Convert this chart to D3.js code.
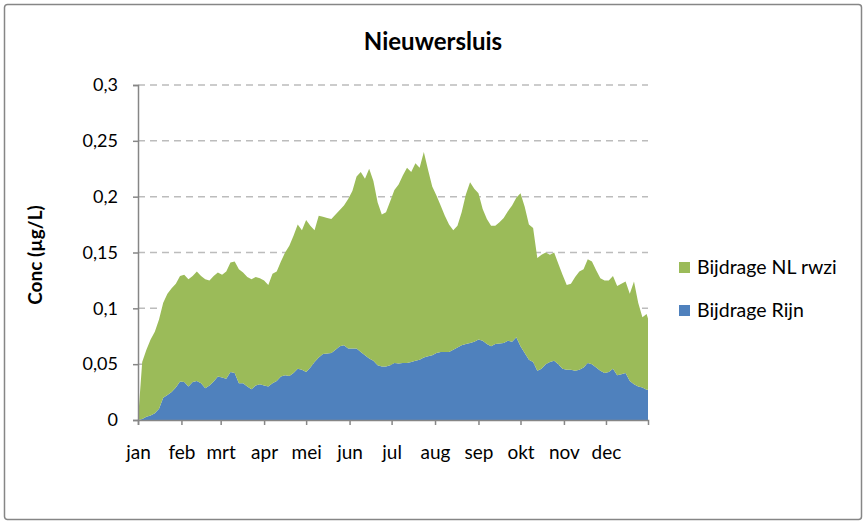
<!DOCTYPE html>
<html>
<head>
<meta charset="utf-8">
<script src="https://cdn.jsdelivr.net/npm/d3@7"></script>
<style>
  body { margin: 0; background: #fff; }
  text { font-family: Lato, "Open Sans", sans-serif; fill: #000; }
</style>
</head>
<body>
<script>
var w = 866;
var h = 522;

// dag van het jaar (0 = 1 jan)
var dagen = [0, 3, 6, 9, 12, 15, 18, 21, 24, 27, 30, 33, 36, 39, 42, 45, 48, 51, 54, 57,
  60, 63, 66, 69, 72, 75, 78, 81, 84, 87, 90, 93, 96, 99, 102, 105, 108, 111, 114, 117,
  120, 123, 126, 129, 132, 135, 138, 141, 144, 147, 150, 153, 156, 159, 162, 165, 168, 171, 174, 177,
  180, 183, 186, 189, 192, 195, 198, 201, 204, 207, 210, 213, 216, 219, 222, 225, 228, 231, 234, 237,
  240, 243, 246, 249, 252, 255, 258, 261, 264, 267, 270, 273, 276, 279, 282, 285, 288, 291, 294, 297,
  300, 303, 306, 309, 312, 315, 318, 321, 324, 327, 330, 333, 336, 339, 342, 345, 348, 351, 354, 357,
  360, 363, 364];

var rijn = [0.000, 0.001, 0.003, 0.004, 0.006, 0.010, 0.020, 0.0225, 0.025, 0.029, 0.0345, 0.034, 0.030, 0.034, 0.035, 0.033, 0.0285, 0.031, 0.0345, 0.039,
  0.038, 0.037, 0.043, 0.042, 0.033, 0.033, 0.030, 0.0275, 0.031, 0.032, 0.031, 0.030, 0.033, 0.035, 0.039, 0.040, 0.0395, 0.042, 0.046, 0.045,
  0.043, 0.047, 0.052, 0.056, 0.059, 0.0595, 0.060, 0.063, 0.066, 0.067, 0.064, 0.064, 0.064, 0.061, 0.058, 0.055, 0.053, 0.049, 0.048, 0.048,
  0.049, 0.051, 0.0505, 0.051, 0.051, 0.052, 0.053, 0.054, 0.056, 0.057, 0.058, 0.060, 0.061, 0.061, 0.061, 0.063, 0.065, 0.067, 0.068, 0.069,
  0.070, 0.072, 0.071, 0.068, 0.066, 0.068, 0.0685, 0.069, 0.071, 0.070, 0.074, 0.066, 0.060, 0.054, 0.052, 0.044, 0.046, 0.050, 0.052, 0.053,
  0.050, 0.046, 0.045, 0.045, 0.044, 0.045, 0.047, 0.051, 0.050, 0.047, 0.044, 0.042, 0.043, 0.046, 0.040, 0.041, 0.042, 0.035, 0.032, 0.030,
  0.029, 0.027, 0.027];

var nlRwzi = [0.000, 0.051, 0.060, 0.068, 0.073, 0.080, 0.085, 0.0905, 0.093, 0.093, 0.0945, 0.096, 0.096, 0.095, 0.098, 0.096, 0.0975, 0.094, 0.0945, 0.093,
  0.092, 0.096, 0.098, 0.100, 0.102, 0.099, 0.098, 0.0985, 0.097, 0.095, 0.094, 0.091, 0.098, 0.098, 0.103, 0.110, 0.1165, 0.123, 0.129, 0.125,
  0.136, 0.127, 0.118, 0.127, 0.123, 0.1215, 0.120, 0.121, 0.122, 0.125, 0.134, 0.141, 0.154, 0.161, 0.158, 0.170, 0.161, 0.146, 0.136, 0.138,
  0.147, 0.155, 0.1605, 0.168, 0.175, 0.170, 0.177, 0.172, 0.184, 0.167, 0.151, 0.141, 0.131, 0.122, 0.114, 0.107, 0.109, 0.119, 0.134, 0.144,
  0.137, 0.131, 0.118, 0.112, 0.108, 0.106, 0.1085, 0.112, 0.116, 0.122, 0.125, 0.137, 0.131, 0.121, 0.120, 0.101, 0.102, 0.100, 0.096, 0.097,
  0.090, 0.084, 0.076, 0.077, 0.084, 0.088, 0.088, 0.093, 0.092, 0.087, 0.083, 0.083, 0.082, 0.083, 0.080, 0.081, 0.082, 0.078, 0.092, 0.075,
  0.063, 0.068, 0.064];

var maanden = ['jan', 'feb', 'mrt', 'apr', 'mei', 'jun', 'jul', 'aug', 'sep', 'okt', 'nov', 'dec'];
var maandStart = [0, 31, 59, 90, 120, 151, 181, 212, 243, 273, 304, 334];
var yTicks = [0, 0.05, 0.1, 0.15, 0.2, 0.25, 0.3];

var reeksen = ['rijn', 'nlRwzi'];
var namen = { rijn: 'Bijdrage Rijn', nlRwzi: 'Bijdrage NL rwzi' };
var kleuren = { rijn: '#4F81BD', nlRwzi: '#9BBB59' };

var margin = { left: 138, right: 218, top: 85, bottom: 102 };

var x = d3.scaleLinear()
  .domain([0, 364])
  .range([margin.left, w - margin.right]);

var y = d3.scaleLinear()
  .domain([0, 0.3])
  .range([h - margin.bottom, margin.top]);

var tabel = dagen.map(function (d, i) {
  return { dag: d, rijn: rijn[i], nlRwzi: nlRwzi[i] };
});

var stack = d3.stack().keys(reeksen);
var lagen = stack(tabel);

var svg = d3.select('body')
  .append('svg')
  .attr('width', w)
  .attr('height', h);

svg.append('rect')
  .attr('x', 4.5)
  .attr('y', 4.5)
  .attr('width', 857)
  .attr('height', 515)
  .attr('rx', 3)
  .attr('fill', '#fff')
  .attr('stroke', '#868686')
  .attr('stroke-width', 1.5);

svg.append('text')
  .attr('x', 433)
  .attr('y', 50)
  .attr('text-anchor', 'middle')
  .style('font-size', '24px')
  .style('font-weight', 'bold')
  .text('Nieuwersluis');

// gridlijnen
svg.append('g')
  .selectAll('line')
  .data(yTicks.slice(1))
  .enter()
  .append('line')
  .attr('x1', margin.left)
  .attr('x2', w - margin.right)
  .attr('y1', function (d) { return y(d); })
  .attr('y2', function (d) { return y(d); })
  .attr('stroke', '#bcbcbc')
  .attr('stroke-width', 1.5)
  .attr('stroke-dasharray', '7,5');

var area = d3.area()
  .x(function (d) { return x(d.data.dag); })
  .y0(function (d) { return y(d[0]); })
  .y1(function (d) { return y(d[1]); });

svg.append('g')
  .selectAll('path')
  .data(lagen)
  .enter()
  .append('path')
  .attr('d', area)
  .attr('fill', function (d) { return kleuren[d.key]; });

// y-as
var yAxis = d3.axisLeft(y)
  .tickValues(yTicks)
  .tickSize(5)
  .tickPadding(15)
  .tickFormat(function (d) { return d3.format('.2~f')(d).replace('.', ','); });

var gy = svg.append('g')
  .attr('transform', 'translate(' + margin.left + ',0)')
  .call(yAxis);
gy.select('.domain').attr('stroke', '#868686').attr('stroke-width', 1.5);
gy.selectAll('.tick line').attr('stroke', '#868686').attr('stroke-width', 1.5);
gy.selectAll('.tick text').style('font-size', '18px').style('font-family', 'Lato, sans-serif');

// x-as
var xAxis = d3.axisBottom(x)
  .tickValues(maandStart)
  .tickSize(5)
  .tickPadding(21)
  .tickFormat(function (d, i) { return maanden[i]; });

var gx = svg.append('g')
  .attr('transform', 'translate(0,' + (h - margin.bottom) + ')')
  .call(xAxis);
gx.select('.domain').attr('stroke', '#868686').attr('stroke-width', 1.5);
gx.selectAll('.tick line').attr('stroke', '#868686').attr('stroke-width', 1.5);
gx.selectAll('.tick text').style('font-size', '19px').style('font-family', 'Lato, sans-serif');

svg.append('text')
  .attr('transform', 'translate(42,255) rotate(-90)')
  .attr('text-anchor', 'middle')
  .style('font-size', '19px')
  .style('font-weight', 'bold')
  .text('Conc (µg/L)');

// legenda
var legenda = svg.append('g')
  .selectAll('g')
  .data(['nlRwzi', 'rijn'])
  .enter()
  .append('g')
  .attr('transform', function (d, i) { return 'translate(679,' + (262 + i * 43) + ')'; });

legenda.append('rect')
  .attr('width', 11)
  .attr('height', 11)
  .attr('fill', function (d) { return kleuren[d]; });

legenda.append('text')
  .attr('x', 18)
  .attr('y', 12)
  .style('font-size', '19.5px')
  .text(function (d) { return namen[d]; });
</script>
</body>
</html>
